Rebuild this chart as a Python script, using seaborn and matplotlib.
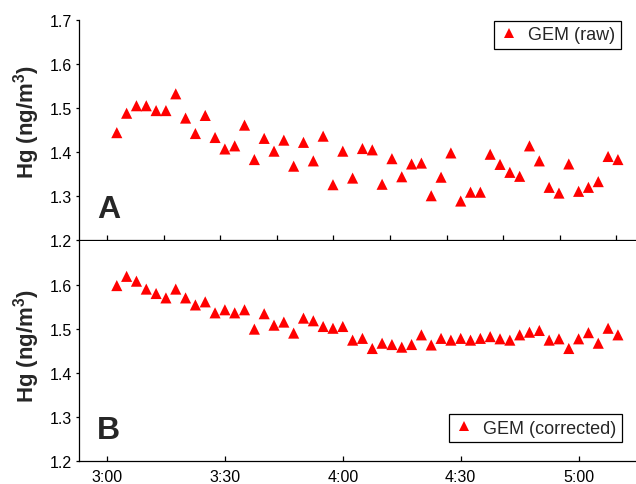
import matplotlib
matplotlib.use("Agg")
import matplotlib.pyplot as plt
import seaborn as sns
import pandas as pd

# minutes after 3:00
minutes = [2.5, 5, 7.5, 10, 12.5, 15, 17.5, 20, 22.5, 25, 27.5, 30, 32.5, 35, 37.5, 40,
           42.5, 45, 47.5, 50, 52.5, 55, 57.5, 60, 62.5, 65, 67.5, 70, 72.5, 75, 77.5, 80,
           82.5, 85, 87.5, 90, 92.5, 95, 97.5, 100, 102.5, 105, 107.5, 110, 112.5, 115,
           117.5, 120, 122.5, 125, 127.5, 130]
gem_raw = [1.444, 1.488, 1.505, 1.505, 1.494, 1.494, 1.532, 1.477, 1.442, 1.483, 1.433, 1.407,
           1.414, 1.461, 1.383, 1.431, 1.402, 1.427, 1.368, 1.422, 1.380, 1.436, 1.326, 1.402,
           1.341, 1.408, 1.405, 1.327, 1.385, 1.344, 1.373, 1.375, 1.301, 1.343, 1.398, 1.289,
           1.309, 1.309, 1.395, 1.372, 1.354, 1.345, 1.414, 1.380, 1.320, 1.307, 1.373, 1.311,
           1.320, 1.333, 1.390, 1.383]
gem_corrected = [1.598, 1.619, 1.608, 1.590, 1.580, 1.570, 1.590, 1.570, 1.554, 1.561, 1.536,
                 1.543, 1.536, 1.543, 1.499, 1.534, 1.508, 1.515, 1.490, 1.524, 1.518, 1.505,
                 1.501, 1.505, 1.474, 1.478, 1.455, 1.467, 1.464, 1.458, 1.464, 1.486, 1.463,
                 1.478, 1.474, 1.478, 1.474, 1.478, 1.482, 1.477, 1.474, 1.486, 1.492, 1.496,
                 1.474, 1.477, 1.455, 1.477, 1.491, 1.467, 1.501, 1.486]
xtick_pos = [0, 30, 60, 90, 120]
xtick_labels = ["3:00", "3:30", "4:00", "4:30", "5:00"]
top_xticks = [0, 14.4, 28.8, 43.2, 57.6, 72.0, 86.4, 100.8, 115.2, 129.6]
yticks_a = [1.2, 1.3, 1.4, 1.5, 1.6, 1.7]
yticks_b = [1.2, 1.3, 1.4, 1.5, 1.6]

sns.set_style("ticks")
plt.rcParams['font.family'] = ['Liberation Sans', 'DejaVu Sans']
plt.rcParams['mathtext.fontset'] = 'custom'
plt.rcParams['mathtext.rm'] = 'Liberation Sans'
plt.rcParams['mathtext.bf'] = 'Liberation Sans:bold'

df_a = pd.DataFrame({"t": minutes, "Hg": gem_raw, "series": "GEM (raw)"})
df_b = pd.DataFrame({"t": minutes, "Hg": gem_corrected, "series": "GEM (corrected)"})

fig = plt.figure(figsize=(6.36, 4.85), dpi=100)
left = 79.3 / 636
width = 1 - left
ax_a = fig.add_axes([left, (485 - 241.3) / 485, width, 220.6 / 485])
ax_b = fig.add_axes([left, (485 - 461.7) / 485, width, 220.0 / 485])

xlim = (-7.04, 134.6)
for ax, df, yt, letter, ly in [(ax_a, df_a, yticks_a, "A", 0.542), (ax_b, df_b, yticks_b, "B", 0.526)]:
    sns.scatterplot(data=df, x="t", y="Hg", hue="series", palette=["#FF0000"],
                    marker="^", s=64, linewidth=0, ax=ax, clip_on=False, zorder=3)
    ax.set_xlim(*xlim)
    ax.set_ylim(1.2, 1.7)
    ax.set_yticks(yt)
    ax.set_yticklabels([f"{v:.1f}" for v in yt])
    for s in ["top", "right"]:
        ax.spines[s].set_visible(False)
    for s in ["left", "bottom"]:
        ax.spines[s].set_linewidth(0.9)
        ax.spines[s].set_color("black")
    ax.tick_params(axis="y", direction="out", length=2.5, width=0.9, labelsize=11.5, pad=3, colors="black")
    ax.tick_params(axis="x", direction="in", length=3.5, width=0.9, labelsize=11.5, pad=6, colors="black")
    ax.set_xlabel("")
    ax.set_ylabel(r"Hg (ng/m$\mathbf{^3}$)", fontsize=16, fontweight="bold")
    ax.yaxis.set_label_coords(-0.067, ly)
    ax.text(0.053, 0.14, letter, transform=ax.transAxes,
            fontsize=23, fontweight="bold", ha="center", va="center")

ax_a.set_xticks(top_xticks)
ax_a.set_xticklabels([])
ax_b.set_xticks(xtick_pos)
ax_b.set_xticklabels(xtick_labels)

leg_kw = dict(borderaxespad=0, fontsize=13, frameon=True, fancybox=False,
              handletextpad=0.5, borderpad=0.3, handlelength=1.1, markerscale=0.95)
leg_a = ax_a.legend(loc="upper right", bbox_to_anchor=(0.973, 0.995), **leg_kw)
leg_b = ax_b.legend(loc="lower right", bbox_to_anchor=(0.975, 0.084), **leg_kw)
for leg in (leg_a, leg_b):
    fr = leg.get_frame()
    fr.set_edgecolor("black")
    fr.set_linewidth(0.9)
    fr.set_alpha(1)

fig.savefig("out.png", dpi=100)
